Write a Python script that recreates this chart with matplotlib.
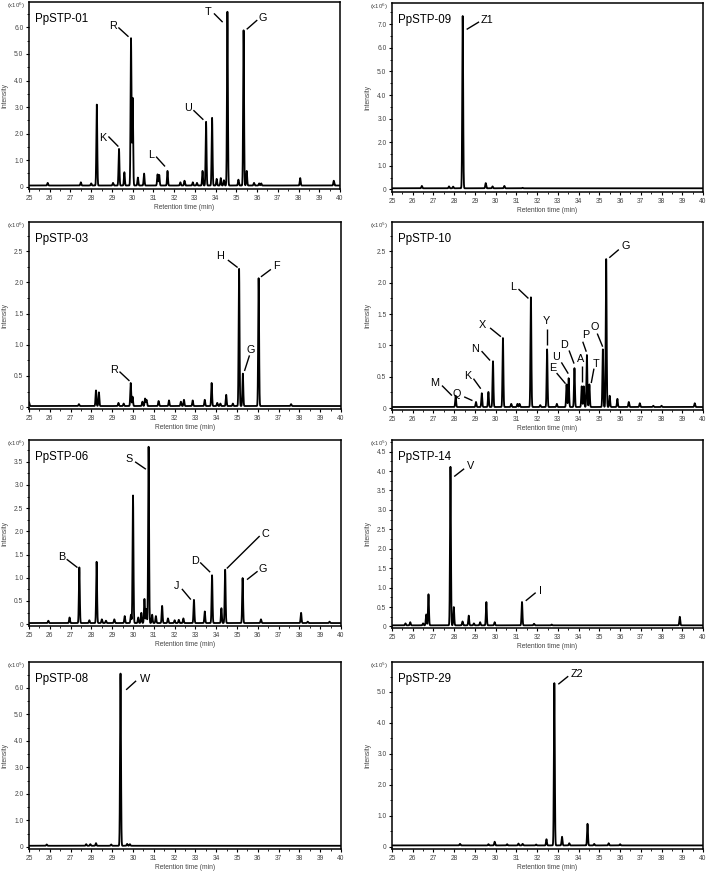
import numpy as np
import matplotlib
matplotlib.use("Agg")
import matplotlib.pyplot as plt
from matplotlib.ticker import MultipleLocator, FuncFormatter

plt.rcParams['font.family'] = ['Liberation Sans', 'DejaVu Sans']

# ---------- peak tables: retention time (min), height (scaled units) ----------
rt_01 = [25.9, 27.5, 28.0, 28.27, 29.05, 29.34, 29.6, 29.92, 30.0, 30.25, 30.55, 31.2, 31.28,
         31.68, 32.3, 32.5, 32.9, 33.1, 33.37, 33.54, 33.83, 34.05, 34.25, 34.4, 34.57, 35.1,
         35.35, 35.5, 35.85, 36.1, 36.2, 38.08, 39.7]
h_01 = [0.1, 0.12, 0.08, 3.05, 0.1, 1.38, 0.5, 5.55, 3.3, 0.3, 0.45, 0.42, 0.4,
        0.55, 0.12, 0.18, 0.12, 0.1, 0.55, 2.4, 2.55, 0.25, 0.28, 0.2, 6.55, 0.22,
        5.85, 0.55, 0.1, 0.08, 0.08, 0.28, 0.18]

rt_09 = [26.44, 27.75, 27.95, 28.41, 29.52, 29.85, 30.42, 31.3]
h_09 = [0.1, 0.08, 0.07, 7.3, 0.22, 0.08, 0.1, 0.02]

rt_03 = [25.0, 27.4, 28.22, 28.36, 29.3, 29.55, 29.89, 29.98, 30.45, 30.58, 30.65, 31.23, 31.73,
         32.3, 32.45, 32.87, 33.45, 33.78, 34.05, 34.2, 34.48, 34.8, 35.1, 35.28, 36.04, 37.6]
h_03 = [0.06, 0.03, 0.25, 0.22, 0.05, 0.04, 0.37, 0.15, 0.07, 0.12, 0.1, 0.08, 0.09,
        0.07, 0.1, 0.09, 0.1, 0.37, 0.05, 0.04, 0.18, 0.04, 2.2, 0.52, 2.05, 0.03]

rt_10 = [28.07, 29.05, 29.33, 29.65, 29.87, 30.35, 30.75, 31.05, 31.15, 31.7, 32.15, 32.48, 32.95,
         33.42, 33.52, 33.8, 34.15, 34.25, 34.4, 34.52, 35.17, 35.33, 35.5, 35.87, 36.42,
         36.95, 37.6, 38.0, 39.6]
h_10 = [0.18, 0.08, 0.22, 0.24, 0.73, 1.1, 0.05, 0.05, 0.05, 1.75, 0.03, 0.92, 0.05,
        0.36, 0.46, 0.62, 0.33, 0.33, 0.83, 0.36, 0.92, 2.36, 0.18, 0.13, 0.08,
        0.06, 0.02, 0.02, 0.06]

rt_06 = [25.93, 26.95, 27.42, 27.9, 28.25, 28.5, 28.7, 29.1, 29.6, 29.9, 30.0, 30.25, 30.4,
         30.55, 30.64, 30.75, 30.92, 31.1, 31.4, 31.68, 32.0, 32.2, 32.42, 32.93, 33.45, 33.8,
         34.25, 34.43, 35.27, 36.15, 38.08, 38.4, 39.45]
h_06 = [0.05, 0.12, 1.2, 0.06, 1.32, 0.08, 0.05, 0.08, 0.15, 0.18, 2.75, 0.12, 0.22,
        0.52, 0.3, 3.8, 0.18, 0.15, 0.37, 0.1, 0.06, 0.07, 0.1, 0.5, 0.25, 1.03,
        0.32, 1.15, 0.97, 0.08, 0.22, 0.03, 0.03]

rt_14 = [25.65, 25.88, 26.5, 26.65, 26.76, 27.82, 27.98, 28.4, 28.7, 28.95, 29.25, 29.55, 29.95,
         31.27, 31.85, 32.7, 38.88]
h_14 = [0.05, 0.08, 0.05, 0.28, 0.8, 4.08, 0.47, 0.1, 0.25, 0.05, 0.08, 0.6, 0.08,
        0.6, 0.04, 0.02, 0.22]

rt_08 = [25.85, 27.75, 27.95, 28.22, 28.95, 29.4, 29.72, 29.85]
h_08 = [0.05, 0.06, 0.06, 0.1, 0.05, 6.5, 0.07, 0.06]

rt_29 = [28.28, 29.65, 29.95, 30.55, 31.1, 31.3, 31.95, 32.45, 32.83, 33.2, 33.55, 34.43, 34.75,
         35.45, 36.0]
h_29 = [0.05, 0.04, 0.12, 0.04, 0.06, 0.05, 0.03, 0.2, 5.25, 0.28, 0.07, 0.7, 0.05,
        0.07, 0.04]

# peak labels: name, text x, text y, line start x, y, line end x, y
lab_01 = [("R", 29.07, 6.05, 29.31, 6.0, 29.8, 5.65), ("K", 28.58, 1.85, 28.83, 1.89, 29.31, 1.51),
          ("L", 30.87, 1.2, 31.13, 1.13, 31.56, 0.76), ("U", 32.65, 2.96, 32.93, 2.88, 33.41, 2.52),
          ("T", 33.65, 6.58, 33.92, 6.53, 34.34, 6.2), ("G", 36.27, 6.34, 36.01, 6.28, 35.5, 5.93)]
lab_09 = [("Z1", 29.57, 7.2, 29.2, 7.1, 28.6, 6.78)]
lab_03 = [("R", 29.1, 0.59, 29.35, 0.57, 29.83, 0.42), ("H", 34.2, 2.42, 34.56, 2.36, 35.03, 2.24),
          ("F", 36.89, 2.26, 36.63, 2.21, 36.15, 2.09), ("G", 35.64, 0.92, 35.6, 0.83, 35.36, 0.58)]
lab_10 = [("M", 27.04, 0.40, 27.41, 0.36, 27.89, 0.2), ("Q", 28.13, 0.23, 28.48, 0.18, 28.88, 0.12),
          ("K", 28.67, 0.52, 28.93, 0.47, 29.28, 0.31), ("N", 29.0, 0.95, 29.32, 0.91, 29.73, 0.76),
          ("X", 29.36, 1.33, 29.73, 1.28, 30.25, 1.14), ("L", 30.86, 1.94, 31.1, 1.9, 31.58, 1.75),
          ("Y", 32.46, 1.39, 32.46, 1.26, 32.46, 1.0), ("E", 32.73, 0.64, 32.94, 0.56, 33.37, 0.39),
          ("U", 32.93, 0.82, 33.17, 0.73, 33.5, 0.55), ("D", 33.3, 1.0, 33.54, 0.92, 33.78, 0.71),
          ("A", 34.1, 0.78, 34.18, 0.68, 34.18, 0.41), ("P", 34.35, 1.16, 34.2, 1.06, 34.37, 0.9),
          ("T", 34.82, 0.71, 34.74, 0.63, 34.61, 0.4), ("O", 34.78, 1.29, 34.9, 1.19, 35.16, 0.98),
          ("G", 36.26, 2.59, 35.94, 2.53, 35.48, 2.4)]
lab_06 = [("B", 26.57, 1.45, 26.81, 1.4, 27.33, 1.22), ("S", 29.83, 3.55, 30.1, 3.5, 30.62, 3.34),
          ("J", 32.11, 0.82, 32.35, 0.76, 32.78, 0.53), ("D", 32.96, 1.36, 33.23, 1.33, 33.71, 1.12),
          ("C", 36.36, 1.94, 36.09, 1.9, 34.51, 1.2), ("G", 36.23, 1.18, 35.99, 1.14, 35.48, 0.96)]
lab_14 = [("V", 28.8, 4.12, 28.48, 4.06, 28.0, 3.86), ("I", 32.17, 0.92, 31.93, 0.87, 31.45, 0.66)]
lab_08 = [("W", 30.58, 6.32, 30.15, 6.27, 29.67, 5.93)]
lab_29 = [("Z2", 33.94, 5.57, 33.5, 5.51, 33.02, 5.25)]

names = ["PpSTP-01", "PpSTP-09", "PpSTP-03", "PpSTP-10", "PpSTP-06", "PpSTP-14", "PpSTP-08", "PpSTP-29"]
exps = ["6", "6", "6", "5", "6", "5", "5", "5"]

panels = [
    (rt_01, h_01, lab_01, (-0.09, 6.96), 1.0, (29, 340, 2, 189)),
    (rt_09, h_09, lab_09, (-0.11, 7.9), 1.0, (392, 703, 3, 192)),
    (rt_03, h_03, lab_03, (-0.03, 2.97), 0.5, (29, 341, 222, 409)),
    (rt_10, h_10, lab_10, (-0.03, 2.97), 0.5, (392, 703, 222, 410)),
    (rt_06, h_06, lab_06, (-0.04, 3.97), 0.5, (29, 341, 440, 626)),
    (rt_14, h_14, lab_14, (-0.04, 4.8), 0.5, (392, 703, 440, 628)),
    (rt_08, h_08, lab_08, (-0.08, 6.98), 1.0, (29, 341, 662, 849)),
    (rt_29, h_29, lab_29, (-0.08, 5.97), 1.0, (392, 703, 662, 849)),
]

W, H = 709, 873
fig = plt.figure(figsize=(W / 100, H / 100), dpi=100)
t = np.linspace(25, 40, 6001)
sigma = 0.022

for name, ex, (rt, hh, labs, ylim, step, box) in zip(names, exps, panels):
    x0, x1, y0, y1 = box
    ax = fig.add_axes([x0 / W, 1 - y1 / H, (x1 - x0) / W, (y1 - y0) / H])
    base = 0.006 * ylim[1]
    sig = np.full(t.shape, base)
    for r, h in zip(rt, hh):
        sig += h * np.exp(-0.5 * ((t - r) / sigma) ** 2)
    ax.plot(t, sig, color='black', lw=1.3)
    ax.set_xlim(25, 40)
    ax.set_ylim(*ylim)
    ax.xaxis.set_major_locator(MultipleLocator(1))
    ax.xaxis.set_minor_locator(MultipleLocator(0.5))
    ax.yaxis.set_major_locator(MultipleLocator(step))
    ax.yaxis.set_minor_locator(MultipleLocator(step / 2))
    ax.yaxis.set_major_formatter(FuncFormatter(lambda v, p: "0" if abs(v) < 1e-9 else f"{v:.1f}"))
    ax.tick_params(which='major', direction='out', length=2.5, width=0.8, labelsize=4.8,
                   labelcolor='#444444', pad=1.5)
    ax.tick_params(which='minor', direction='out', length=1.5, width=0.6)
    for s in ax.spines.values():
        s.set_linewidth(1.1)
    ax.set_xlabel("Retention time (min)", fontsize=4.8, color='#444444')
    ax.set_ylabel("Intensity", fontsize=4.8, color='#444444')
    ax.xaxis.set_label_coords(0.5, -15 / (y1 - y0))
    ax.yaxis.set_label_coords(-21 / (x1 - x0), 0.5)
    ax.annotate("(x10$^{%s}$)" % ex, xy=(0, 1), xycoords='axes fraction', xytext=(-3, -2.5),
                textcoords='offset points', ha='right', va='center', fontsize=4.3, color='#444444')
    ax.text(0.018, 0.94, name, transform=ax.transAxes, ha='left', va='top', fontsize=8.3)
    for lab, tx, ty, lx0, ly0, lx1, ly1 in labs:
        ax.plot([lx0, lx1], [ly0, ly1], color='black', lw=1.0, solid_capstyle='butt')
        ax.text(tx, ty, lab, ha='center', va='center', fontsize=7.8)

fig.savefig("out.png", dpi=100)
